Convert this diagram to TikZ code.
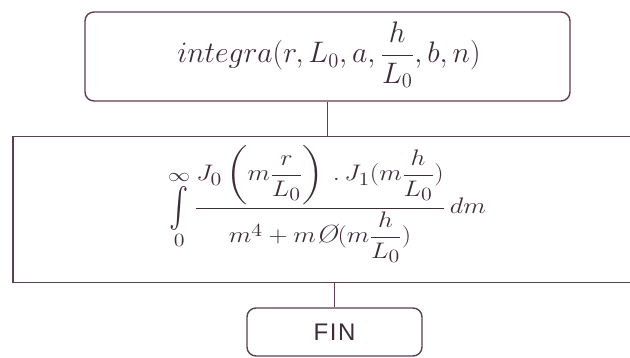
\documentclass[tikz,border=0pt]{standalone}
\usepackage{amsmath,amssymb}
\usepackage{fontspec}
\newfontfamily\finfont{Liberation Sans}
\definecolor{linec}{HTML}{5E3F52}
\definecolor{textc}{HTML}{3E2C39}
\newcommand{\tallint}{\mathop{\vcenter{\hbox{\scalebox{1}[1.6]{$\textstyle\int$}}}}\limits}
\begin{document}
\begin{tikzpicture}[x=1pt,y=-1pt,
  boxline/.style={draw=linec,line width=1.4pt},
  roundbox/.style={boxline,rounded corners=9pt,inner sep=0pt},
  plainbox/.style={boxline,inner sep=0pt},
  conn/.style={draw=linec,line width=1.4pt},
  txt/.style={text=textc,inner sep=0pt}]
\useasboundingbox (0,0) rectangle (630,358);
\clip (0,0) rectangle (630,358);
\node[roundbox,minimum width=485pt,minimum height=89pt] (top) at (327.5,56.5) {};
\node[txt] (toptext) at (329,55) {\scalebox{1.43}{\fontsize{20}{24}\selectfont$integra(r,L_0,a,\dfrac{h}{L_0},b,n)$}};
\node[plainbox,minimum width=640pt,minimum height=146pt] (mid) at (333,209.5) {};
\node[txt] (formula) at (327,204) {\scalebox{1.52}[1.3]{\fontsize{19}{23}\selectfont$\tallint_0^{\infty}\displaystyle\frac{J_0\left(m\dfrac{r}{L_0}\right)\,.\,J_1(m\dfrac{h}{L_0})}{m^4+m\text{\itshape Ø}(m\dfrac{h}{L_0})}\,dm$}};
\node[roundbox,minimum width=175pt,minimum height=48pt] (fin) at (334.5,332) {};
\node[txt,font=\finfont\fontsize{24}{28}\selectfont] (fintext) at (fin.center) {F\kern1.5pt I\kern1.5pt N};
\draw[conn] (top.south) -- (top.south |- mid.north);
\draw[conn] (fin.north |- mid.south) -- (fin.north);
\end{tikzpicture}
\end{document}
